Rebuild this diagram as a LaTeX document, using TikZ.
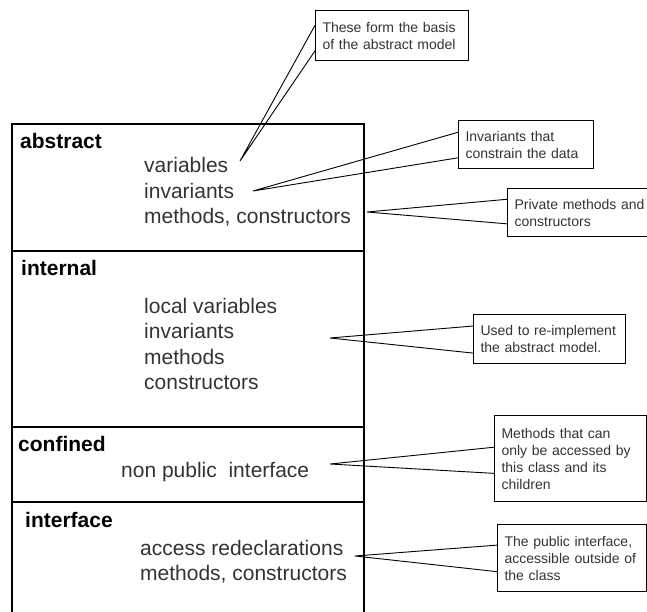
\documentclass[tikz,border=0pt]{standalone}
\usepackage{fontspec}
\setmainfont{Liberation Sans}
\usepackage{xcolor}
\usetikzlibrary{calc}
\definecolor{textgrey}{HTML}{333333}
\tikzset{
  frame/.style={line width=1.8pt, draw=black},
  seclabel/.style={anchor=base west, inner sep=0pt, font=\fontsize{21}{25}\selectfont\bfseries},
  member/.style={anchor=base west, inner sep=0pt, text=textgrey, font=\fontsize{21}{25}\selectfont},
  callout/.style={draw, line width=1.1pt, anchor=north west, align=left, inner xsep=7pt, inner ysep=0pt, text=textgrey, font=\fontsize{14}{17}\selectfont},
  pointer/.style={line width=0.9pt},
}

\begin{document}
\begin{tikzpicture}[x=1pt,y=-1pt]
      \useasboundingbox (0,0) rectangle (647,612);

      % the class, cut into its four parts
      \draw[frame] (12,625) -- (12,124) -- (364,124) -- (364,625);
      \foreach \y in {251,427,502}
        \draw[frame] (12,\y) -- (364,\y);

      \node[seclabel] (abstract) at (20,149) {abstract};
      \foreach \item [count=\i] in {variables, invariants, {methods, constructors}}
        \node[member] (abs-\i) at (144,{147.5+25.5*\i}) {\item};

      \node[seclabel] (internal) at (21,275) {internal};
      \foreach \item [count=\i] in {local variables, invariants, methods, constructors}
        \node[member] (int-\i) at (144,{287.5+25.5*\i}) {\item};

      \node[seclabel] (confined) at (18,451) {confined};
      \node[member] (conf-1) at (121,477) {non public~~interface};

      \node[seclabel] (interface) at (25,527) {interface};
      \foreach \item [count=\i] in {access redeclarations, {methods, constructors}}
        \node[member] (intf-\i) at (140,{529.5+25.5*\i}) {\item};

      % the notes
      \node[callout, text width=139pt, minimum height=50pt] (basis) at (315,10)
        {These form the basis\\of the abstract model};
      \node[callout, text width=121pt, minimum height=48pt] (invbox) at (458,120)
        {Invariants that\\constrain the data};
      \node[callout, text width=136pt, minimum height=48pt] (privbox) at (507,188)
        {Private methods and\\constructors};
      \node[callout, text width=138pt, minimum height=49pt] (usedbox) at (473,314)
        {Used to re-implement\\the abstract model.};
      \node[callout, text width=138pt, minimum height=86pt] (methbox) at (494,415)
        {Methods that can\\only be accessed by\\this class and its\\children};
      \node[callout, text width=135pt, minimum height=67pt] (pubbox) at (497,524)
        {The public interface,\\accessible outside of\\the class};

      % where the notes point to
      \coordinate (tip-var) at (240,161);
      \coordinate (tip-inv) at (253,191);
      \coordinate (tip-priv) at (367,212);
      \coordinate (tip-int) at (330,338);
      \coordinate (tip-conf) at (330,464);
      \coordinate (tip-pub) at (355,556);

      \foreach \tip/\target/\a/\b in {var/basis/.3/.8, inv/invbox/.25/.77,
          priv/privbox/.23/.73, int/usedbox/.24/.78,
          conf/methbox/.37/.67, pub/pubbox/.31/.7}
        \draw[pointer] ($(\target.north west)!\a!(\target.south west)$)
          -- (tip-\tip) -- ($(\target.north west)!\b!(\target.south west)$);
    \end{tikzpicture}
\end{document}
